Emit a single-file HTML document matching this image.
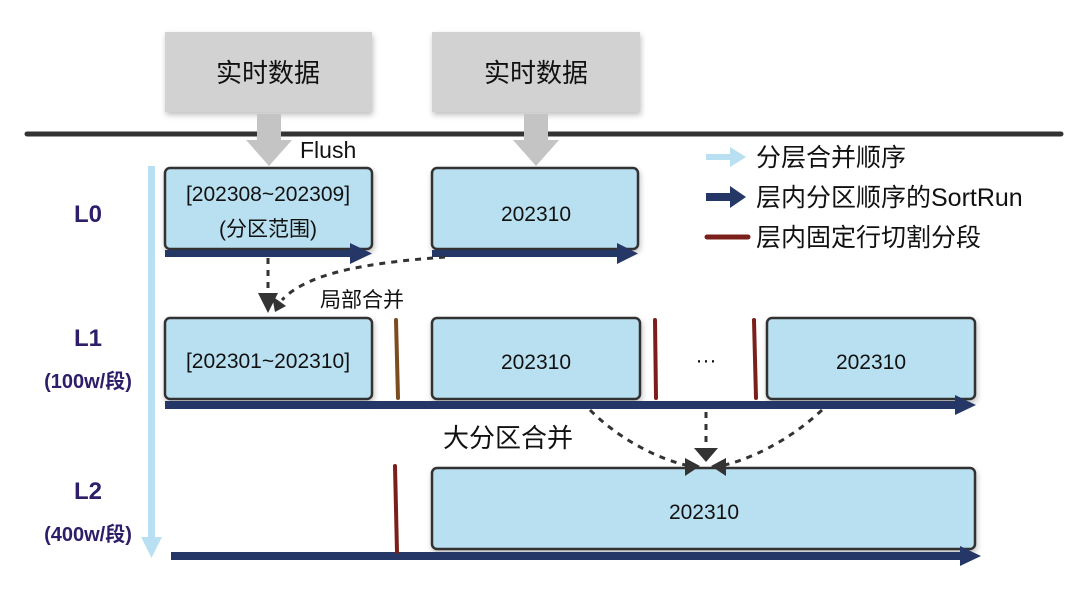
<!DOCTYPE html>
<html><head><meta charset="utf-8"><style>
html,body{margin:0;padding:0;background:#fff;}
svg{display:block;}
text{font-family:"Liberation Sans","Noto Sans CJK SC",sans-serif;}
</style></head><body>
<svg width="1080" height="601" viewBox="0 0 1080 601" xmlns="http://www.w3.org/2000/svg">
<defs>
<filter id="sh" x="-10%" y="-10%" width="130%" height="140%"><feDropShadow dx="1" dy="3" stdDeviation="3" flood-color="#000" flood-opacity="0.25"/></filter>
</defs>
<rect x="165" y="32" width="207" height="80" fill="#d2d2d2" filter="url(#sh)"/>
<rect x="432" y="32" width="208" height="80" fill="#d2d2d2" filter="url(#sh)"/>
<text x="268" y="82" font-size="26" text-anchor="middle" fill="#111">实时数据</text>
<text x="536" y="82" font-size="26" text-anchor="middle" fill="#111">实时数据</text>
<line x1="27" y1="134" x2="1061" y2="134" stroke="#333" stroke-width="5" stroke-linecap="round"/>
<polygon points="257,114 281,114 281,140 292,140 269,166 246,140 257,140" fill="#c4c4c4"/>
<polygon points="524,114 548,114 548,140 559,140 536,166 513,140 524,140" fill="#c4c4c4"/>
<text x="300" y="158" font-size="23" fill="#111">Flush</text>
<rect x="148" y="166" width="7" height="374" fill="#b9e0f2"/>
<polygon points="141,537 162,537 151.5,558" fill="#b9e0f2"/>
<g font-weight="bold" fill="#2e1d68" text-anchor="middle">
<text x="88" y="222" font-size="24">L0</text>
<text x="88" y="346" font-size="24">L1</text>
<text x="88" y="388" font-size="20">(100w/段)</text>
<text x="88" y="499" font-size="24">L2</text>
<text x="88" y="541" font-size="20">(400w/段)</text>
</g>
<g fill="#b9e0f0" stroke="#333" stroke-width="2.5" filter="url(#sh)">
<rect x="165" y="168" width="207" height="81" rx="5"/>
<rect x="432" y="168" width="206" height="81" rx="5"/>
<rect x="165" y="318" width="207" height="81" rx="5"/>
<rect x="432" y="318" width="208" height="81" rx="5"/>
<rect x="767" y="318" width="208" height="81" rx="5"/>
<rect x="432" y="468" width="543" height="81" rx="5"/>
</g>
<g font-size="21" fill="#111" text-anchor="middle">
<text x="268" y="201">[202308~202309]</text>
<text x="268" y="236">(分区范围)</text>
<text x="536" y="221">202310</text>
<text x="268" y="368">[202301~202310]</text>
<text x="536" y="369">202310</text>
<text x="871" y="369">202310</text>
<text x="706" y="367">···</text>
<text x="704" y="519">202310</text>
</g>
<g fill="#253766">
<rect x="165" y="250" width="190" height="7"/><polygon points="350,243 372,253.5 350,264"/>
<rect x="432" y="250" width="190" height="7"/><polygon points="617,243 638,253.5 617,264"/>
<rect x="165" y="401" width="795" height="8"/><polygon points="955,395 976,405 955,415"/>
<rect x="171" y="552" width="795" height="8"/><polygon points="960,546 981,556 960,566"/>
</g>
<g stroke-width="4" stroke-linecap="round" fill="none">
<line x1="396" y1="320" x2="398" y2="398" stroke="#7a4c1e"/>
<line x1="655" y1="320" x2="656" y2="398" stroke="#7b1f1b"/>
<line x1="754" y1="320" x2="756" y2="398" stroke="#7b1f1b"/>
<line x1="395" y1="466" x2="397" y2="552" stroke="#7b1f1b"/>
</g>
<g stroke="#333" stroke-width="3" stroke-dasharray="6,6" fill="none">
<line x1="268" y1="258" x2="268" y2="296"/>
<path d="M445,257 C380,262 310,270 282,300"/>
<path d="M590,410 C620,440 660,460 690,466"/>
<line x1="706" y1="412" x2="706" y2="455"/>
<path d="M822,410 C790,440 750,460 720,466"/>
</g>
<polygon points="258,293 278,293 268,313" fill="#333"/>
<polygon points="272,296 286,306 275,312" fill="#333"/>
<polygon points="694,448 718,448 706,462" fill="#333"/>
<polygon points="685,458 700,466 685,476" fill="#333"/>
<polygon points="726,458 711,466 726,476" fill="#333"/>
<g font-size="21" fill="#111">
<text x="320" y="307">局部合并</text>
</g>
<text x="443" y="447" font-size="26" fill="#111">大分区合并</text>
<polygon points="706,154 730,154 730,147 746,157 730,167 730,160 706,160" fill="#b9e0f2"/>
<polygon points="706,193 730,193 730,186 746,197 730,208 730,201 706,201" fill="#253766"/>
<line x1="707" y1="237" x2="748" y2="237" stroke="#7b1f1b" stroke-width="5" stroke-linecap="round"/>
<g font-size="25" fill="#111">
<text x="756" y="166">分层合并顺序</text>
<text x="756" y="206">层内分区顺序的SortRun</text>
<text x="756" y="246">层内固定行切割分段</text>
</g>
</svg>
</body></html>
